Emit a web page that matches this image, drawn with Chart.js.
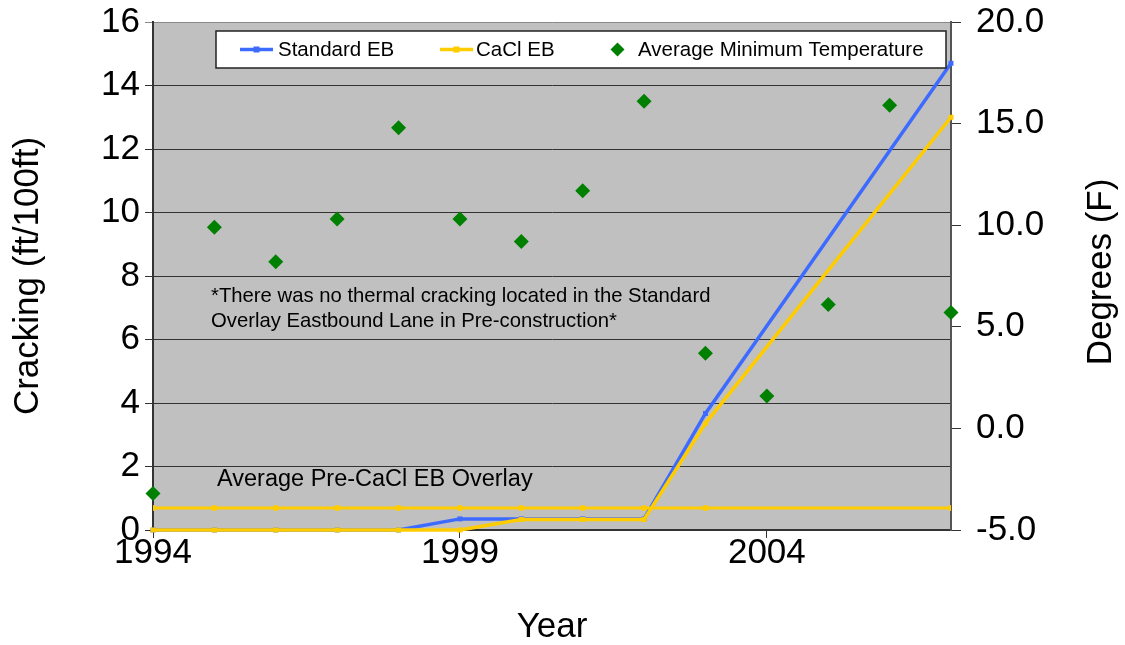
<!DOCTYPE html>
<html>
<head>
<meta charset="utf-8">
<script src="https://cdn.jsdelivr.net/npm/chart.js@4/dist/chart.umd.min.js"></script>
<style>
 body{margin:0;background:#fff;}
 #wrap{width:1125px;height:645px;}
</style>
</head>
<body>
<div id="wrap"><canvas id="chart" width="1125" height="645"></canvas></div>
<script>
const FONT="'Liberation Sans', Arial, sans-serif";

const years=[1994,1995,1996,1997,1998,1999,2000,2001,2002,2003,2004,2005,2006,2007];
const standardEB=[0,0,0,0,0,0.35,0.35,0.35,0.35,3.67,null,null,null,14.7];
const caclEB=[0,0,0,0,0,0,0.33,0.33,0.33,3.36,null,null,null,13.0];
const preCaclAvg=[0.69,0.69,0.69,0.69,0.69,0.69,0.69,0.69,0.69,0.69,null,null,null,0.69];
const minTemp=[-3.2,9.9,8.2,10.3,14.8,10.3,9.2,11.7,16.1,3.7,1.6,6.1,15.9,5.7];
const xTicks=[1994,1999,2004];
const leftTicks={min:0,max:16,step:2};
const rightTicks={min:-5,max:20,step:5};

const BLUE='#3D6BFF',YELLOW='#FFCC00',GREEN='#008000';

function pts(vals){
 return years.map((y,i)=>({x:y,y:vals[i]}));
}

// grey plot area behind the grid
const plotBg={
 id:'plotBg',
 beforeDraw(chart){
  const {ctx,chartArea:a}=chart;
  ctx.save();
  ctx.fillStyle='#C0C0C0';
  ctx.fillRect(a.left,a.top,a.right-a.left,a.bottom-a.top);
  ctx.restore();
 }
};

// notes, legend box and right axis title
const extras={
 id:'extras',
 afterDraw(chart){
  const {ctx,chartArea:a}=chart;
  ctx.save();
  ctx.fillStyle='#000';
  ctx.textBaseline='middle';
  ctx.textAlign='left';

  ctx.font='20.3px '+FONT;
  ctx.fillText('*There was no thermal cracking located in the Standard',a.left+58,a.top+274);
  ctx.fillText('Overlay Eastbound Lane in Pre-construction*',a.left+58,a.top+299);

  ctx.font='23.5px '+FONT;
  ctx.fillText('Average Pre-CaCl EB Overlay',a.left+64,a.top+458);

  // legend
  const bx=a.left+63,by=a.top+9,bw=730,bh=37;
  ctx.fillStyle='#fff';
  ctx.fillRect(bx,by,bw,bh);
  ctx.strokeStyle='#222';
  ctx.lineWidth=1.5;
  ctx.strokeRect(bx,by,bw,bh);
  const cy=by+bh/2;
  const items=[
   {x1:240,x2:273,tx:278,color:BLUE,label:'Standard EB',line:true},
   {x1:440,x2:473,tx:476,color:YELLOW,label:'CaCl EB',line:true},
   {x1:610,x2:625,tx:638,color:GREEN,label:'Average Minimum Temperature',line:false}
  ];
  ctx.font='20.5px '+FONT;
  for(const it of items){
   const mx=(it.x1+it.x2)/2;
   if(it.line){
    ctx.strokeStyle=it.color;
    ctx.lineWidth=3.5;
    ctx.beginPath();ctx.moveTo(it.x1,cy);ctx.lineTo(it.x2,cy);ctx.stroke();
    ctx.fillStyle=it.color;
    ctx.fillRect(mx-3,cy-3,6,6);
   } else {
    ctx.fillStyle=it.color;
    ctx.beginPath();
    ctx.moveTo(mx,cy-7);ctx.lineTo(mx+7,cy);ctx.lineTo(mx,cy+7);ctx.lineTo(mx-7,cy);
    ctx.closePath();ctx.fill();
   }
   ctx.fillStyle='#000';
   ctx.fillText(it.label,it.tx,cy+1);
  }

  // right axis title reads bottom to top
  ctx.font='35px '+FONT;
  ctx.textAlign='center';
  ctx.translate(1101,272);
  ctx.rotate(-Math.PI/2);
  ctx.fillText('Degrees (F)',0,0);
  ctx.restore();
 }
};

Chart.defaults.font.family=FONT;
Chart.defaults.color='#000';

new Chart(document.getElementById('chart'),{
 type:'line',
 data:{
  datasets:[
   {label:'Average Minimum Temperature',data:pts(minTemp),yAxisID:'y1',showLine:false,
    pointStyle:'rectRot',pointRadius:7.5,pointBackgroundColor:GREEN,pointBorderColor:GREEN,
    pointBorderWidth:0,borderColor:GREEN,backgroundColor:GREEN,order:0,clip:false},
   {label:'CaCl EB',data:pts(caclEB),yAxisID:'y',borderColor:YELLOW,backgroundColor:YELLOW,
    borderWidth:3.5,pointStyle:'rect',pointRadius:3.5,pointBorderWidth:0,spanGaps:true,order:1,clip:false},
   {label:'Average Pre-CaCl EB Overlay',data:pts(preCaclAvg),yAxisID:'y',borderColor:YELLOW,
    backgroundColor:YELLOW,borderWidth:3,pointStyle:'circle',pointRadius:3,pointBorderWidth:0,
    spanGaps:true,order:2},
   {label:'Standard EB',data:pts(standardEB),yAxisID:'y',borderColor:BLUE,backgroundColor:BLUE,
    borderWidth:3.5,pointStyle:'rect',pointRadius:3.5,pointBorderWidth:0,spanGaps:true,order:3,clip:false}
  ]
 },
 options:{
  responsive:false,
  animation:false,
  layout:{padding:{top:22,left:0,right:0,bottom:0}},
  plugins:{legend:{display:false},tooltip:{enabled:false}},
  elements:{line:{tension:0}},
  scales:{
   x:{
    type:'linear',min:years[0],max:years[years.length-1],
    afterBuildTicks(s){s.ticks=xTicks.map(v=>({value:v}));},
    afterFit(s){s.height=115;s.paddingLeft=0;s.paddingRight=0;},
    ticks:{font:{size:35},padding:-6,maxRotation:0,callback:v=>String(v)},
    grid:{drawOnChartArea:false,drawTicks:true,tickLength:8,color:'#333'},
    border:{display:true,color:'#333',width:2},
    title:{display:true,text:'Year',font:{size:35},padding:{top:0,bottom:-3}}
   },
   y:{
    position:'left',min:leftTicks.min,max:leftTicks.max,
    afterFit(s){s.width=153;s.paddingTop=0;s.paddingBottom=0;},
    ticks:{stepSize:leftTicks.step,font:{size:35},padding:5},
    grid:{color:c=>c.tick&&c.tick.value===leftTicks.max?'#888':'#333',lineWidth:1,tickLength:8},
    border:{display:true,color:'#333',width:2},
    title:{display:true,text:'Cracking (ft/100ft)',font:{size:35},padding:{top:7,bottom:0}}
   },
   y1:{
    position:'right',min:rightTicks.min,max:rightTicks.max,
    afterFit(s){s.width=174;s.paddingTop=0;s.paddingBottom=0;},
    ticks:{stepSize:rightTicks.step,font:{size:35},padding:15,callback:v=>v.toFixed(1)},
    grid:{drawOnChartArea:false,tickLength:10,color:'#333'},
    border:{display:true,color:'#555',width:2}
   }
  }
 },
 plugins:[plotBg,extras]
});
</script>
</body>
</html>
